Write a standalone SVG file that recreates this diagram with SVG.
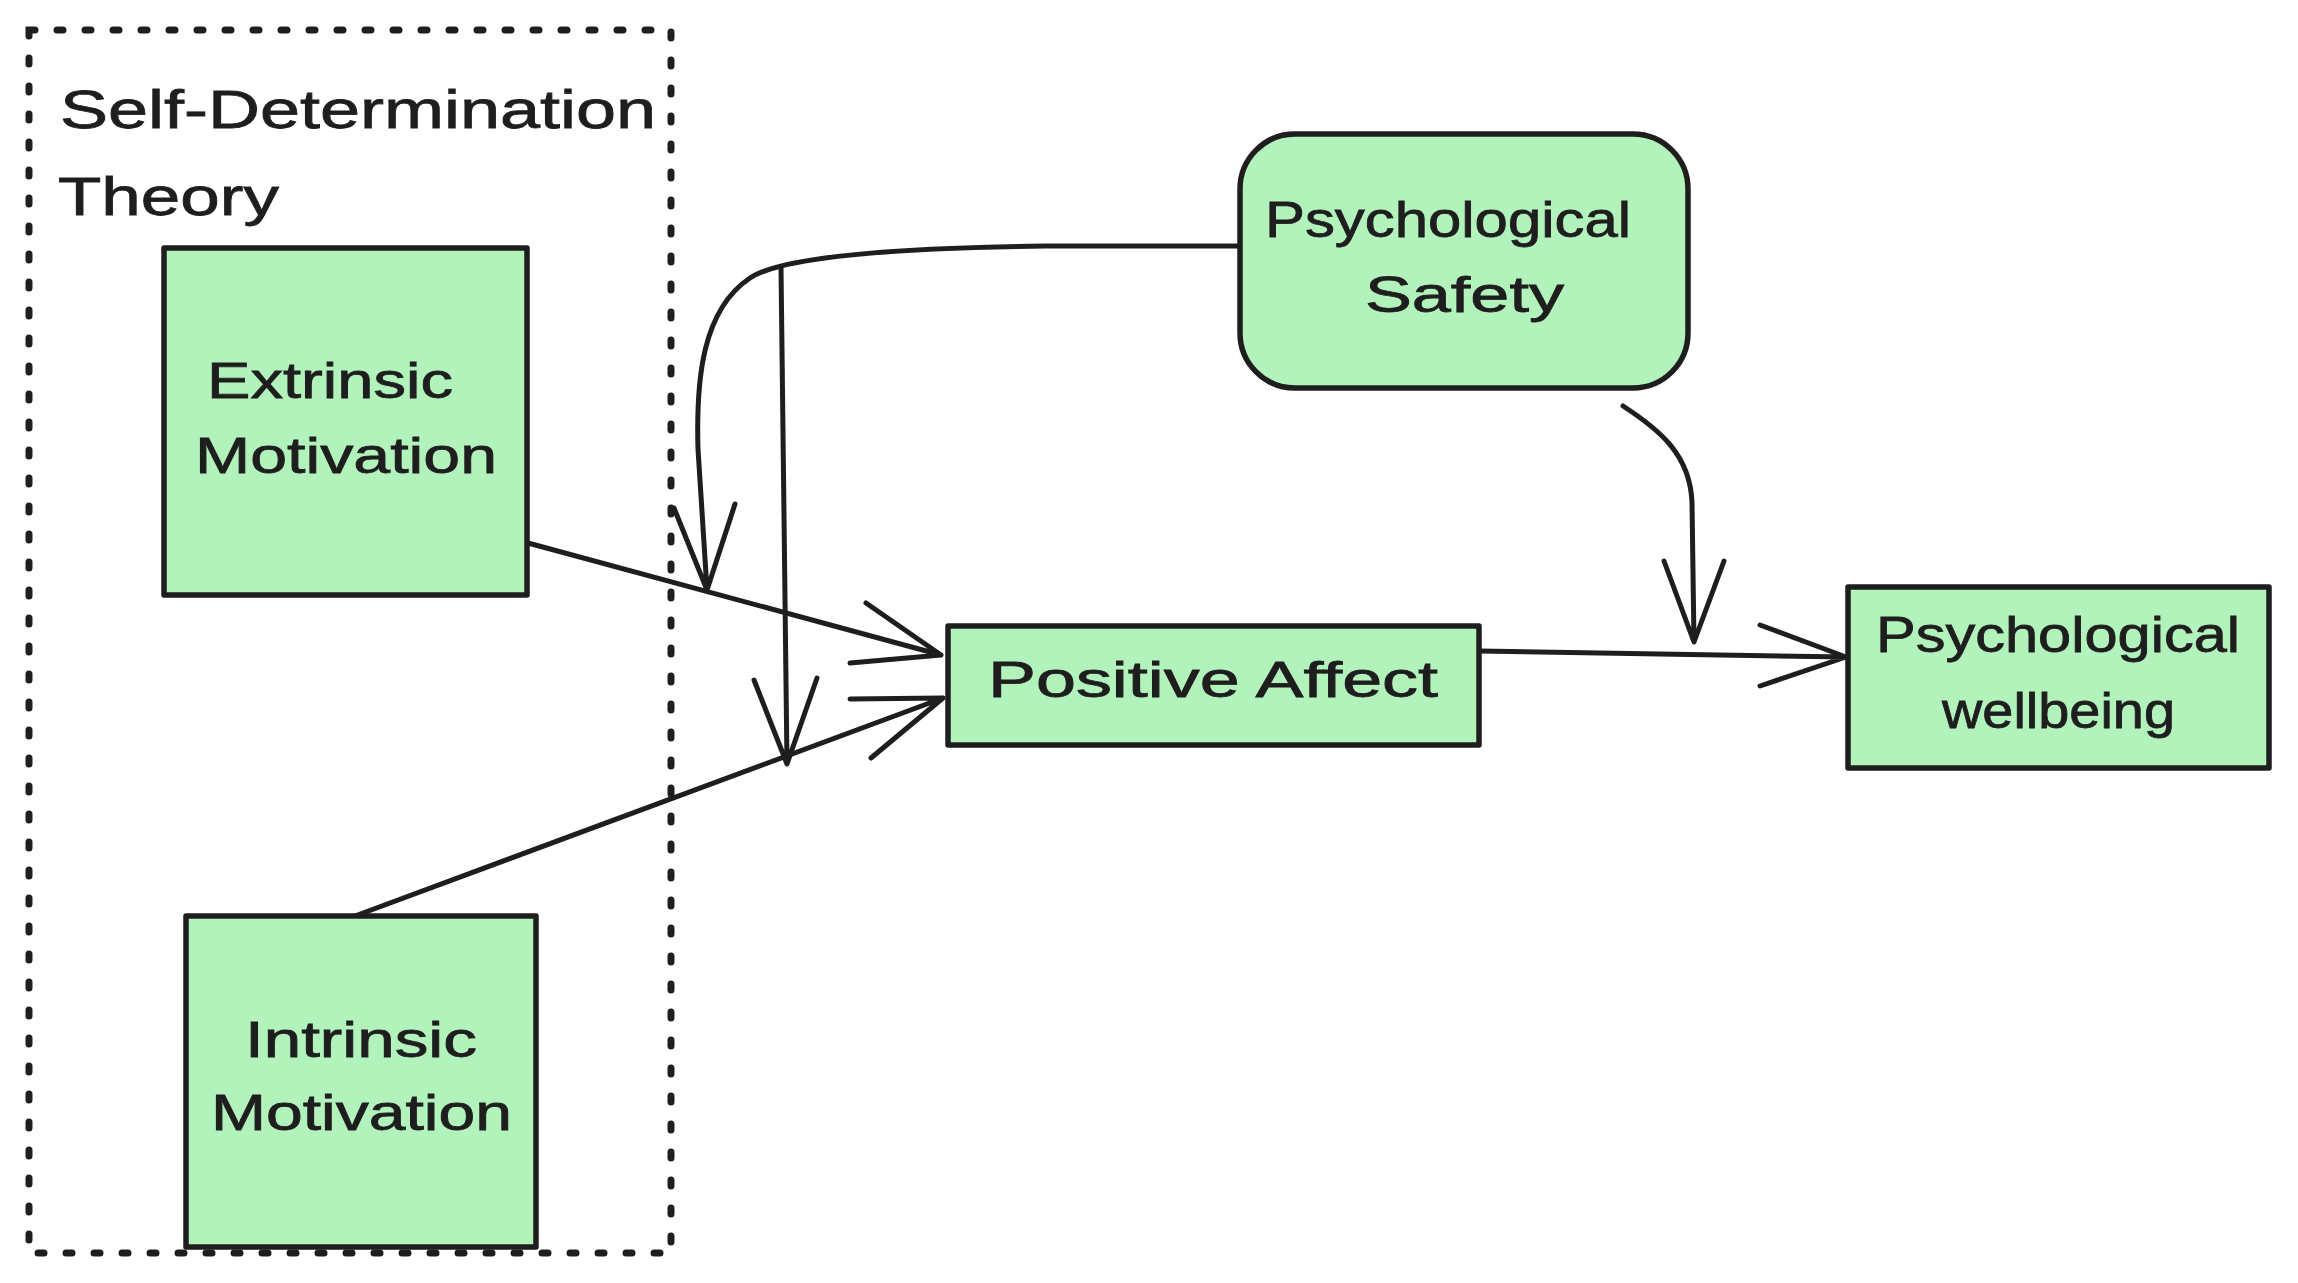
<svg xmlns="http://www.w3.org/2000/svg" width="2298" height="1283" viewBox="0 0 2298 1283">
<style>
.node{fill:#b2f2bb;stroke:#1e1e1e;stroke-width:5.5;stroke-linejoin:round}
.lbl{font-family:"Liberation Sans",Arial,sans-serif;font-size:50px;fill:#1e1e1e;stroke:#1e1e1e;stroke-width:0.8}
.title{font-family:"Liberation Sans",Arial,sans-serif;font-size:54px;fill:#1e1e1e;stroke:#1e1e1e;stroke-width:0.8}
.edge{fill:none;stroke:#1e1e1e;stroke-width:5;stroke-linecap:round;stroke-linejoin:round}
.frame{fill:none;stroke:#1e1e1e;stroke-width:7;stroke-linecap:round;stroke-dasharray:6 22}
</style>
<rect width="2298" height="1283" fill="#ffffff"/>
<g id="frame-sdt">
<rect class="frame" x="29" y="30" width="642" height="1223"/>
<text class="title" x="60" y="128" textLength="596" lengthAdjust="spacingAndGlyphs">Self-Determination</text>
<text class="title" x="58" y="215" textLength="221" lengthAdjust="spacingAndGlyphs">Theory</text>
</g>
<g id="connectors">
<path class="edge" d="M528,543 L941,655 M866,603 L941,655 L850,663"/>
<path class="edge" d="M355,916 L943,698 M850,699 L943,698 L871,758"/>
<path class="edge" d="M1238,246 L1046,246 C880,248 780,258 750,278 C702,310 696,380 698,449 L707,590 M674,508 L707,590 L735,504"/>
<path class="edge" d="M781,267 L787,764 M754,680 L787,764 L817,678"/>
<path class="edge" d="M1623,406 C1660,430 1690,455 1692,502 L1694,642 M1664,561 L1694,642 L1724,561"/>
<path class="edge" d="M1479,651 L1846,657 M1760,625 L1846,657 L1760,686"/>
</g>
<g id="node-extrinsic">
<rect class="node" x="164" y="248" width="363" height="347"/>
<text class="lbl" x="207" y="398" textLength="246" lengthAdjust="spacingAndGlyphs">Extrinsic</text>
<text class="lbl" x="195" y="473" textLength="302" lengthAdjust="spacingAndGlyphs">Motivation</text>
</g>
<g id="node-intrinsic">
<rect class="node" x="186" y="916" width="350" height="331"/>
<text class="lbl" x="245" y="1057" textLength="232" lengthAdjust="spacingAndGlyphs">Intrinsic</text>
<text class="lbl" x="211" y="1130" textLength="301" lengthAdjust="spacingAndGlyphs">Motivation</text>
</g>
<g id="node-positive-affect">
<rect class="node" x="948" y="626" width="531" height="119"/>
<text class="lbl" x="988" y="697" textLength="450" lengthAdjust="spacingAndGlyphs">Positive  Affect</text>
</g>
<g id="node-psych-safety">
<rect class="node" x="1240" y="134" width="448" height="254" rx="55" ry="55"/>
<text class="lbl" x="1265" y="237" textLength="366" lengthAdjust="spacingAndGlyphs">Psychological</text>
<text class="lbl" x="1365" y="312" textLength="199" lengthAdjust="spacingAndGlyphs">Safety</text>
</g>
<g id="node-psych-wellbeing">
<rect class="node" x="1848" y="587" width="421" height="181"/>
<text class="lbl" x="1876" y="652" textLength="364" lengthAdjust="spacingAndGlyphs">Psychological</text>
<text class="lbl" x="1942" y="728" textLength="233" lengthAdjust="spacingAndGlyphs">wellbeing</text>
</g>
</svg>
